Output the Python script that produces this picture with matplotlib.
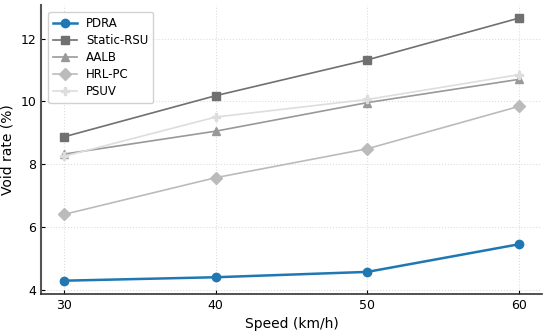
import matplotlib
matplotlib.use('Agg')
import matplotlib.pyplot as plt

# data
speeds = [30, 40, 50, 60]
pdra = [4.29, 4.40, 4.57, 5.45]
static_rsu = [8.87, 10.18, 11.32, 12.65]
aalb = [8.32, 9.05, 9.96, 10.70]
hrl_pc = [6.40, 7.57, 8.49, 9.84]
psuv = [8.25, 9.50, 10.06, 10.85]

fig, ax = plt.subplots(figsize=(5.5, 3.32), dpi=100)

ax.plot(speeds, pdra, marker='o', color='#1f77b4', linewidth=1.8, markersize=6, label='PDRA')
ax.plot(speeds, static_rsu, marker='s', color='#707070', linewidth=1.2, markersize=6, label='Static-RSU')
ax.plot(speeds, aalb, marker='^', color='#999999', linewidth=1.2, markersize=6, label='AALB')
ax.plot(speeds, hrl_pc, marker='D', color='#bbbbbb', linewidth=1.2, markersize=6, label='HRL-PC')
ax.plot(speeds, psuv, marker='P', color='#dddddd', linewidth=1.2, markersize=6, label='PSUV')

ax.set_xticks(speeds)
ax.set_yticks([4, 6, 8, 10, 12])
ax.set_xlabel('Speed (km/h)', fontsize=10)
ax.set_ylabel('Void rate (%)', fontsize=10)
ax.tick_params(direction='in', labelsize=9, length=3)
ax.grid(True, linestyle=':', color='#dddddd', linewidth=0.8)
ax.spines['top'].set_visible(False)
ax.spines['right'].set_visible(False)
ax.spines['left'].set_color('#555555')
ax.spines['left'].set_linewidth(1.5)
ax.spines['bottom'].set_color('#333333')
ax.spines['bottom'].set_linewidth(1.2)
ax.legend(loc='upper left', fontsize=8.5, framealpha=0.9, labelspacing=0.35,
          borderaxespad=0.6)

plt.subplots_adjust(left=0.075, right=0.985, top=0.985, bottom=0.115)
fig.savefig('out.png')
